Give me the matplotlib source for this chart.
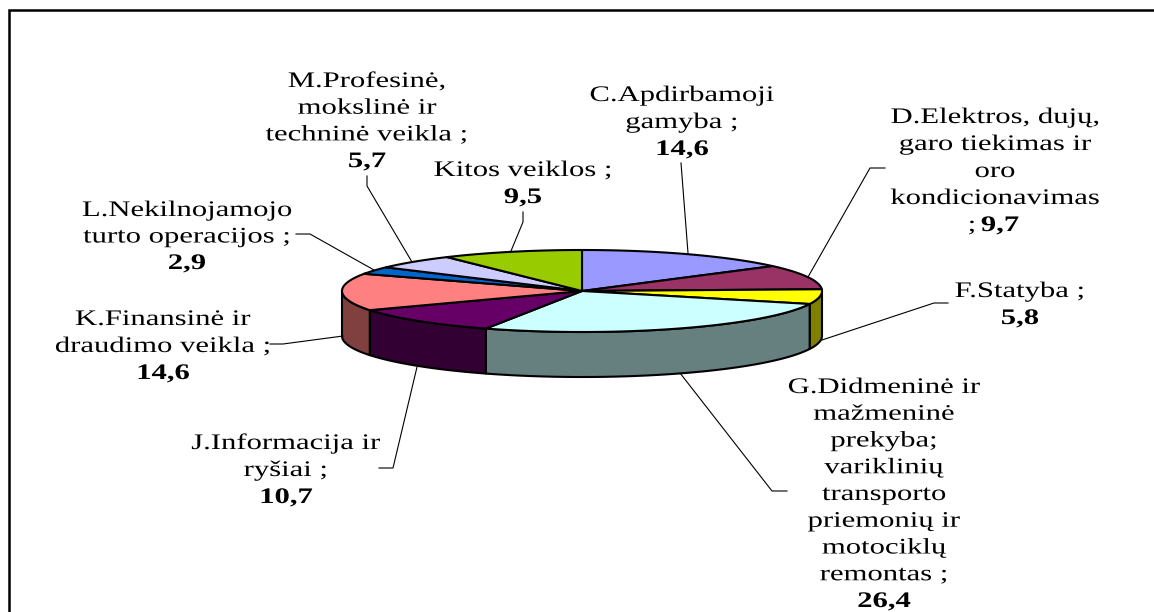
import matplotlib
matplotlib.use("Agg")
import matplotlib.pyplot as plt
from matplotlib.patches import Polygon
from matplotlib.patheffects import AbstractPathEffect
from matplotlib.transforms import Affine2D
import numpy as np

values = [14.6, 9.7, 5.8, 26.4, 10.7, 14.6, 2.9, 5.7, 9.5]
value_labels = ["14,6", "9,7", "5,8", "26,4", "10,7", "14,6", "2,9", "5,7", "9,5"]
names = [
    ["C.Apdirbamoji", "gamyba ;"],
    ["D.Elektros, dujų,", "garo tiekimas ir", "oro", "kondicionavimas"],
    ["F.Statyba ;"],
    ["G.Didmeninė ir", "mažmeninė", "prekyba;", "variklinių", "transporto",
     "priemonių ir", "motociklų", "remontas ;"],
    ["J.Informacija ir", "ryšiai ;"],
    ["K.Finansinė ir", "draudimo veikla ;"],
    ["L.Nekilnojamojo", "turto operacijos ;"],
    ["M.Profesinė,", "mokslinė ir", "techninė veikla ;"],
    ["Kitos veiklos ;"],
]
top_colors = ["#9999FF", "#993366", "#FFFF00", "#CCFFFF", "#660066",
              "#FF8080", "#0066CC", "#CCCCFF", "#99CC00"]
side_colors = ["#4D4D80", "#4D1A33", "#808000", "#668080", "#330033",
               "#804040", "#003366", "#666680", "#4D6600"]

# label layout in pixels: centre x, baseline of first line, line step
label_pos = [(682, 101, 27), (995, 123, 27), (1020, 297, 27), (884, 393, 26.75),
             (286, 449, 27), (163, 325, 27), (187, 216, 26.5), (367, 87, 26.7),
             (523, 176, 27)]
leaders = [
    [(681, 163), (688, 253)],
    [(885, 168), (870, 168), (808, 277)],
    [(948, 303), (934, 303), (822, 340)],
    [(787, 491), (772, 491), (680, 373)],
    [(379, 468), (393, 468), (417, 367)],
    [(270, 344), (283, 344), (343, 336)],
    [(296, 234), (310, 234), (374, 270)],
    [(367, 176), (367, 186), (412, 262)],
    [(523, 212), (523, 222), (511, 251)],
]

cx, cy = 582, 291
rx, ry = 240, 41
depth = 45


class Stretch(AbstractPathEffect):
    # the source picture has its text pulled wide, do the same around the anchor
    def __init__(self, x0, sx=1.38):
        super().__init__()
        self.x0 = x0
        self.sx = sx

    def draw_path(self, renderer, gc, tpath, affine, rgbFace=None):
        wide = affine + Affine2D().translate(-self.x0, 0).scale(self.sx, 1).translate(self.x0, 0)
        renderer.draw_path(gc, tpath, wide, rgbFace)


def rim(a0, a1, dy=0):
    # clockwise from 12 o'clock
    t = np.radians(np.linspace(a0, a1, max(int(a1 - a0) * 2, 2)))
    return np.column_stack([cx + rx * np.sin(t), cy + dy - ry * np.cos(t)])


def label(x, y, txt, **kw):
    ax.text(x, y, txt, family="Liberation Serif", fontsize=16, ha="center", va="baseline",
            color="black", path_effects=[Stretch(x)], **kw)


fig = plt.figure(figsize=(11.54, 6.12), dpi=100)
ax = fig.add_axes([0, 0, 1, 1])
ax.set_xlim(0, 1154)
ax.set_ylim(612, 0)
ax.axis("off")

# frame runs off the right and bottom of the crop
ax.plot([1154, 9, 9], [10, 10, 612], color="black", lw=1.8, solid_joinstyle="miter")

edges = np.cumsum([0] + values) / sum(values) * 360

# sides first, only the front half shows
for i in range(len(values)):
    a0 = max(edges[i], 90)
    a1 = min(edges[i + 1], 270)
    if a1 > a0:
        pts = np.vstack([rim(a0, a1), rim(a0, a1, depth)[::-1]])
        ax.add_patch(Polygon(pts, fc=side_colors[i], ec="black", lw=1.5, joinstyle="round"))

for i in range(len(values)):
    pts = np.vstack([[(cx, cy)], rim(edges[i], edges[i + 1])])
    ax.add_patch(Polygon(pts, fc=top_colors[i], ec="black", lw=1.5, joinstyle="round"))

for line in leaders:
    xs, ys = zip(*line)
    ax.plot(xs, ys, color="black", lw=0.8)

for i in range(len(values)):
    x, y, step = label_pos[i]
    for j, txt in enumerate(names[i]):
        label(x, y + j * step, txt)
    y_val = y + len(names[i]) * step
    if i == 1:
        # this one shares its line with the semicolon
        label(x - 23, y_val, ";")
        label(x + 5, y_val, value_labels[i], fontweight="bold")
    else:
        label(x, y_val, value_labels[i], fontweight="bold")

fig.savefig("out.png", dpi=100)
